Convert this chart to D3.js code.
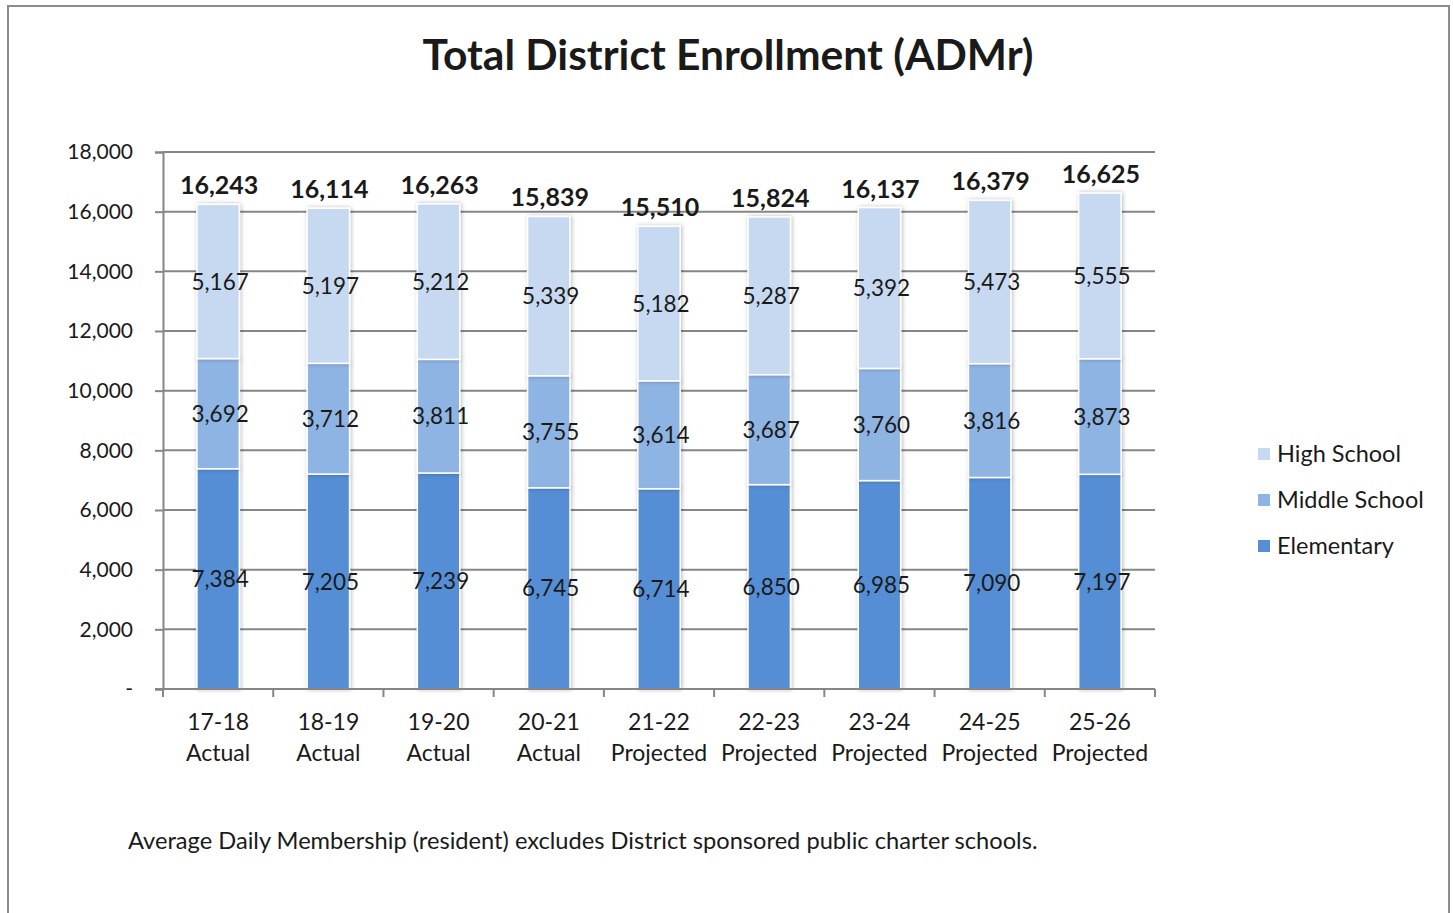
<!DOCTYPE html>
<html>
<head>
<meta charset="utf-8">
<script src="https://cdn.jsdelivr.net/npm/d3@7"></script>
<style>
  html, body { margin: 0; padding: 0; background: #fff; }
  svg { display: block; }
  text { font-family: Lato, "Open Sans", sans-serif; fill: #1a1a1a; }
</style>
</head>
<body>
<svg id="chart" width="1453" height="913"></svg>
<script>
const categories = ["17-18|Actual", "18-19|Actual", "19-20|Actual", "20-21|Actual",
  "21-22|Projected", "22-23|Projected", "23-24|Projected", "24-25|Projected", "25-26|Projected"];
const elementary = [7384, 7205, 7239, 6745, 6714, 6850, 6985, 7090, 7197];
const middle     = [3692, 3712, 3811, 3755, 3614, 3687, 3760, 3816, 3873];
const high       = [5167, 5197, 5212, 5339, 5182, 5287, 5392, 5473, 5555];
const totals     = [16243, 16114, 16263, 15839, 15510, 15824, 16137, 16379, 16625];
const yTicks     = [0, 2000, 4000, 6000, 8000, 10000, 12000, 14000, 16000, 18000];
const seriesNames = ["Elementary", "Middle School", "High School"];
const seriesColors = ["#558ED5", "#8EB4E3", "#C6D9F1"];
const titleText = "Total District Enrollment (ADMr)";
const footnote = "Average Daily Membership (resident) excludes District sponsored public charter schools.";

const svg = d3.select("#chart");
const grid = "#868686";

// outer border
svg.append("rect").attr("x", 8).attr("y", 6).attr("width", 1441).attr("height", 920)
  .attr("fill", "none").attr("stroke", "#8c8c8c").attr("stroke-width", 2);

// shadow filter
const defs = svg.append("defs");
const f = defs.append("filter").attr("id", "shadow").attr("x", "-30%").attr("y", "-10%")
  .attr("width", "160%").attr("height", "120%");
f.append("feDropShadow").attr("dx", 1).attr("dy", 0).attr("stdDeviation", 2)
  .attr("flood-color", "#000").attr("flood-opacity", 0.28);

const x = d3.scaleBand().domain(categories).range([163, 1155]).padding(0);
const y = d3.scaleLinear().domain([0, 18000]).range([689, 152]);

// gridlines
svg.append("g").selectAll("line").data(yTicks.slice(1)).join("line")
  .attr("x1", 163).attr("x2", 1155)
  .attr("y1", d => y(d)).attr("y2", d => y(d))
  .attr("stroke", grid).attr("stroke-width", 2);

// y axis
const yAxis = svg.append("g").attr("transform", "translate(163,0)")
  .call(d3.axisLeft(y).tickValues(yTicks).tickSize(8).tickPadding(22)
    .tickFormat(d => d === 0 ? "-" : d3.format(",")(d)));
yAxis.select(".domain").attr("stroke", grid).attr("stroke-width", 2);
yAxis.selectAll(".tick line").attr("stroke", grid).attr("stroke-width", 2);
yAxis.selectAll(".tick text").attr("font-size", 21).attr("fill", "#1a1a1a")
  .attr("font-family", "Lato, sans-serif");

// stacked bars
const stackData = categories.map((c, i) => ({ cat: c, Elementary: elementary[i], "Middle School": middle[i], "High School": high[i] }));
const stacked = d3.stack().keys(seriesNames)(stackData);
const bw = x.bandwidth() * 0.385;

const barsG = svg.append("g");
stacked.forEach((s, si) => {
  barsG.append("g").attr("filter", "url(#shadow)").selectAll("rect").data(s).join("rect")
    .attr("x", d => x(d.data.cat) + (x.bandwidth() - bw) / 2)
    .attr("width", bw)
    .attr("y", d => y(d[1]))
    .attr("height", d => y(d[0]) - y(d[1]))
    .attr("fill", seriesColors[si])
    .attr("stroke", "#fff").attr("stroke-width", 1.5);
});

// segment labels
stacked.forEach((s, si) => {
  svg.append("g").selectAll("text").data(s).join("text")
    .attr("x", d => x(d.data.cat) + x.bandwidth() / 2 + 2)
    .attr("y", d => (y(d[0]) + y(d[1])) / 2)
    .attr("dy", "0.36em")
    .attr("text-anchor", "middle")
    .attr("font-size", 22.5)
    .text(d => d3.format(",")(d[1] - d[0]));
});

// total labels
svg.append("g").selectAll("text").data(totals).join("text")
  .attr("x", (d, i) => x(categories[i]) + x.bandwidth() / 2 + 1)
  .attr("y", d => y(d) - 10)
  .attr("text-anchor", "middle")
  .attr("font-size", 25).attr("font-weight", "bold")
  .attr("fill", "#000")
  .text(d => d3.format(",")(d));

// x axis
const xAxisG = svg.append("g");
xAxisG.append("line").attr("x1", 155).attr("x2", 1155).attr("y1", y(0)).attr("y2", y(0))
  .attr("stroke", grid).attr("stroke-width", 2);
const bounds = categories.map(c => x(c)).concat([x.range()[1]]);
xAxisG.selectAll("line.t").data(bounds).join("line").attr("class", "t")
  .attr("x1", d => d).attr("x2", d => d).attr("y1", y(0)).attr("y2", y(0) + 8)
  .attr("stroke", grid).attr("stroke-width", 2);
const xl = xAxisG.selectAll("text").data(categories).join("text")
  .attr("text-anchor", "middle").attr("font-size", 23)
  .attr("transform", d => `translate(${x(d) + x.bandwidth() / 2},0)`);
xl.append("tspan").attr("x", 0).attr("y", 730).text(d => d.split("|")[0]);
xl.append("tspan").attr("x", 0).attr("y", 761).text(d => d.split("|")[1]);

// title
const t = svg.append("text").attr("x", 728).attr("y", 70).attr("text-anchor", "middle")
  .attr("font-weight", "bold").attr("font-size", 38).attr("fill", "#000").text(titleText);
const tw = t.node().getComputedTextLength();
t.attr("font-size", 38 * 611 / tw);

// legend
const legendItems = [2, 1, 0];
const lg = svg.append("g");
legendItems.forEach((si, k) => {
  const cy = 454 + k * 46;
  lg.append("rect").attr("x", 1258).attr("y", cy - 6).attr("width", 12).attr("height", 12)
    .attr("fill", seriesColors[si]);
  lg.append("text").attr("x", 1277).attr("y", cy).attr("dy", "0.36em")
    .attr("font-size", 23.5).text(seriesNames[si]);
});

// footnote
const fn = svg.append("text").attr("x", 128).attr("y", 849).attr("font-size", 21).text(footnote);
const fw = fn.node().getComputedTextLength();
fn.attr("font-size", 21 * 910 / fw);
</script>
</body>
</html>
